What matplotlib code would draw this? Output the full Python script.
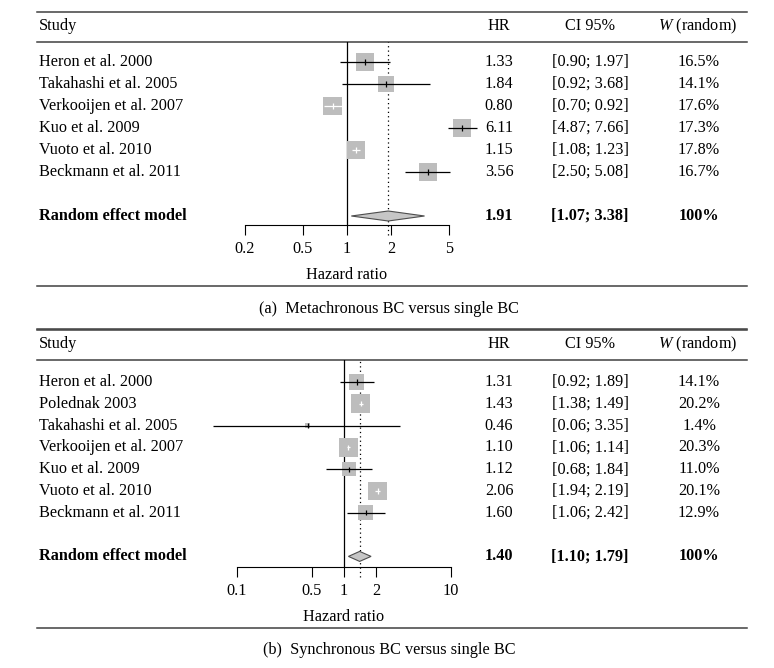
import matplotlib
matplotlib.use("Agg")
import matplotlib.pyplot as plt
import numpy as np
from matplotlib.ticker import NullLocator

plt.rcParams['font.family'] = ['Liberation Serif', 'DejaVu Serif']
plt.rcParams['mathtext.fontset'] = 'custom'
plt.rcParams['mathtext.it'] = 'Liberation Serif:italic'
plt.rcParams['mathtext.rm'] = 'Liberation Serif'

# (a) metachronous BC versus single BC
studies_a = ["Heron et al. 2000", "Takahashi et al. 2005", "Verkooijen et al. 2007",
             "Kuo et al. 2009", "Vuoto et al. 2010", "Beckmann et al. 2011"]
hr_a = [1.33, 1.84, 0.80, 6.11, 1.15, 3.56]
lo_a = [0.90, 0.92, 0.70, 4.87, 1.08, 2.50]
hi_a = [1.97, 3.68, 0.92, 7.66, 1.23, 5.08]
w_a = [16.5, 14.1, 17.6, 17.3, 17.8, 16.7]
summary_a = [1.91, 1.07, 3.38]
ticks_a = [0.2, 0.5, 1, 2, 5]

# (b) synchronous BC versus single BC
studies_b = ["Heron et al. 2000", "Polednak 2003", "Takahashi et al. 2005",
             "Verkooijen et al. 2007", "Kuo et al. 2009", "Vuoto et al. 2010",
             "Beckmann et al. 2011"]
hr_b = [1.31, 1.43, 0.46, 1.10, 1.12, 2.06, 1.60]
lo_b = [0.92, 1.38, 0.06, 1.06, 0.68, 1.94, 1.06]
hi_b = [1.89, 1.49, 3.35, 1.14, 1.84, 2.19, 2.42]
w_b = [14.1, 20.2, 1.4, 20.3, 11.0, 20.1, 12.9]
summary_b = [1.40, 1.10, 1.79]
ticks_b = [0.1, 0.5, 1, 2, 10]

W, H = 774, 668
FS = 11.7
fig = plt.figure(figsize=(W / 100, H / 100), dpi=100)
bg = fig.add_axes([0, 0, 1, 1])
bg.set_xlim(0, W)
bg.set_ylim(H, 0)
bg.axis('off')

RULE = '#404040'
X0, X1 = 37, 747
HR_X, CI_X, W_X = 499, 590, 699


def forest(top, row0, dy, axis_y, one_px, ppd, studies, hr, lo, hi, w, summ,
           ticks, caption, cap_y, rule_after=None):
    rule2 = top + 30
    # table rules and header
    bg.plot([X0, X1], [top, top], color=RULE, lw=1.1)
    bg.plot([X0, X1], [rule2, rule2], color=RULE, lw=1.1)
    bg.plot([X0, X1], [axis_y + 61, axis_y + 61], color=RULE, lw=1.1)
    if rule_after is not None:
        bg.plot([X0, X1], [rule_after, rule_after], color=RULE, lw=1.1)
    hy = top + 14
    bg.text(39, hy, "Study", fontsize=FS, va='center')
    bg.text(HR_X, hy, "HR", fontsize=FS, va='center', ha='center')
    bg.text(CI_X, hy, "CI 95%", fontsize=FS, va='center', ha='center')
    bg.text(W_X - 1, hy, "$W$ (random)", fontsize=FS, va='center', ha='center')

    n = len(studies)
    for i in range(n):
        y = row0 + i * dy
        bg.text(39, y, studies[i], fontsize=FS, va='center')
        bg.text(HR_X, y, f"{hr[i]:.2f}", fontsize=FS, va='center', ha='center')
        bg.text(CI_X, y, f"[{lo[i]:.2f}; {hi[i]:.2f}]", fontsize=FS, va='center', ha='center')
        bg.text(W_X, y, f"{w[i]:.1f}%", fontsize=FS, va='center', ha='center')
    ys = row0 + (n + 1) * dy
    bg.text(39, ys, "Random effect model", fontsize=FS, va='center', weight='bold')
    bg.text(HR_X, ys, f"{summ[0]:.2f}", fontsize=FS, va='center', ha='center', weight='bold')
    bg.text(CI_X, ys, f"[{summ[1]:.2f}; {summ[2]:.2f}]", fontsize=FS, va='center',
            ha='center', weight='bold')
    bg.text(W_X, ys, "100%", fontsize=FS, va='center', ha='center', weight='bold')
    bg.text(W / 2 + 2, cap_y, caption, fontsize=FS, va='center', ha='center')

    # forest plot axes
    left, right = 150, 500
    ax = fig.add_axes([left / W, 1 - axis_y / H, (right - left) / W, (axis_y - rule2) / H])
    ax.set_xscale('log')
    ax.set_xlim(10 ** ((left - one_px) / ppd), 10 ** ((right - one_px) / ppd))
    ax.set_ylim((axis_y - row0) / dy, (rule2 - row0) / dy)
    ax.patch.set_alpha(0)
    for s in ['top', 'left', 'right']:
        ax.spines[s].set_visible(False)
    ax.spines['bottom'].set_bounds(ticks[0], ticks[-1])
    ax.spines['bottom'].set_linewidth(0.8)
    ax.set_xticks(ticks)
    ax.set_xticklabels([f"{t:g}" for t in ticks])
    ax.xaxis.set_minor_locator(NullLocator())
    ax.set_yticks([])
    ax.tick_params(axis='x', direction='out', length=7.2, width=0.8, pad=4, labelsize=FS)

    h_px = axis_y - rule2
    ax.axvline(1, color='black', lw=0.9, zorder=1)
    ax.axvline(summ[0], ymin=-10 / h_px, ymax=1, color='black', lw=0.9, ls=(0, (1, 2.5)),
               clip_on=False, zorder=1)

    rows = np.arange(n)
    side = 18.7 * np.sqrt(np.array(w) / max(w))
    ci_px = (np.log10(hi) - np.log10(lo)) * ppd
    cols = ['white' if c < s else 'black' for c, s in zip(ci_px, side)]
    ax.scatter(hr, rows, marker='s', s=(side * 0.72) ** 2, color='#bdbdbd', lw=0, zorder=2)
    ax.hlines(rows, lo, hi, colors=cols, lw=0.9, zorder=3)
    ax.scatter(hr, rows, marker='|', s=14, c=cols, lw=0.9, zorder=4)

    r = n + 1
    hh = 5 / dy
    ax.fill([summ[1], summ[0], summ[2], summ[0]], [r, r - hh, r, r + hh],
            fc='#c6c6c6', ec='#4d4d4d', lw=0.8, zorder=3)
    ax.annotate("Hazard ratio", xy=(1, 0), xycoords=('data', 'axes fraction'),
                xytext=(0, -50), textcoords='offset pixels', ha='center', va='center',
                fontsize=FS)


forest(12, 62, 22, 225, 347, 146.6, studies_a, hr_a, lo_a, hi_a, w_a, summary_a,
       ticks_a, "(a)  Metachronous BC versus single BC", 309, rule_after=329)
forest(330, 382, 21.8, 567, 344, 107, studies_b, hr_b, lo_b, hi_b, w_b, summary_b,
       ticks_b, "(b)  Synchronous BC versus single BC", 650)

fig.savefig('out.png', dpi=100)
